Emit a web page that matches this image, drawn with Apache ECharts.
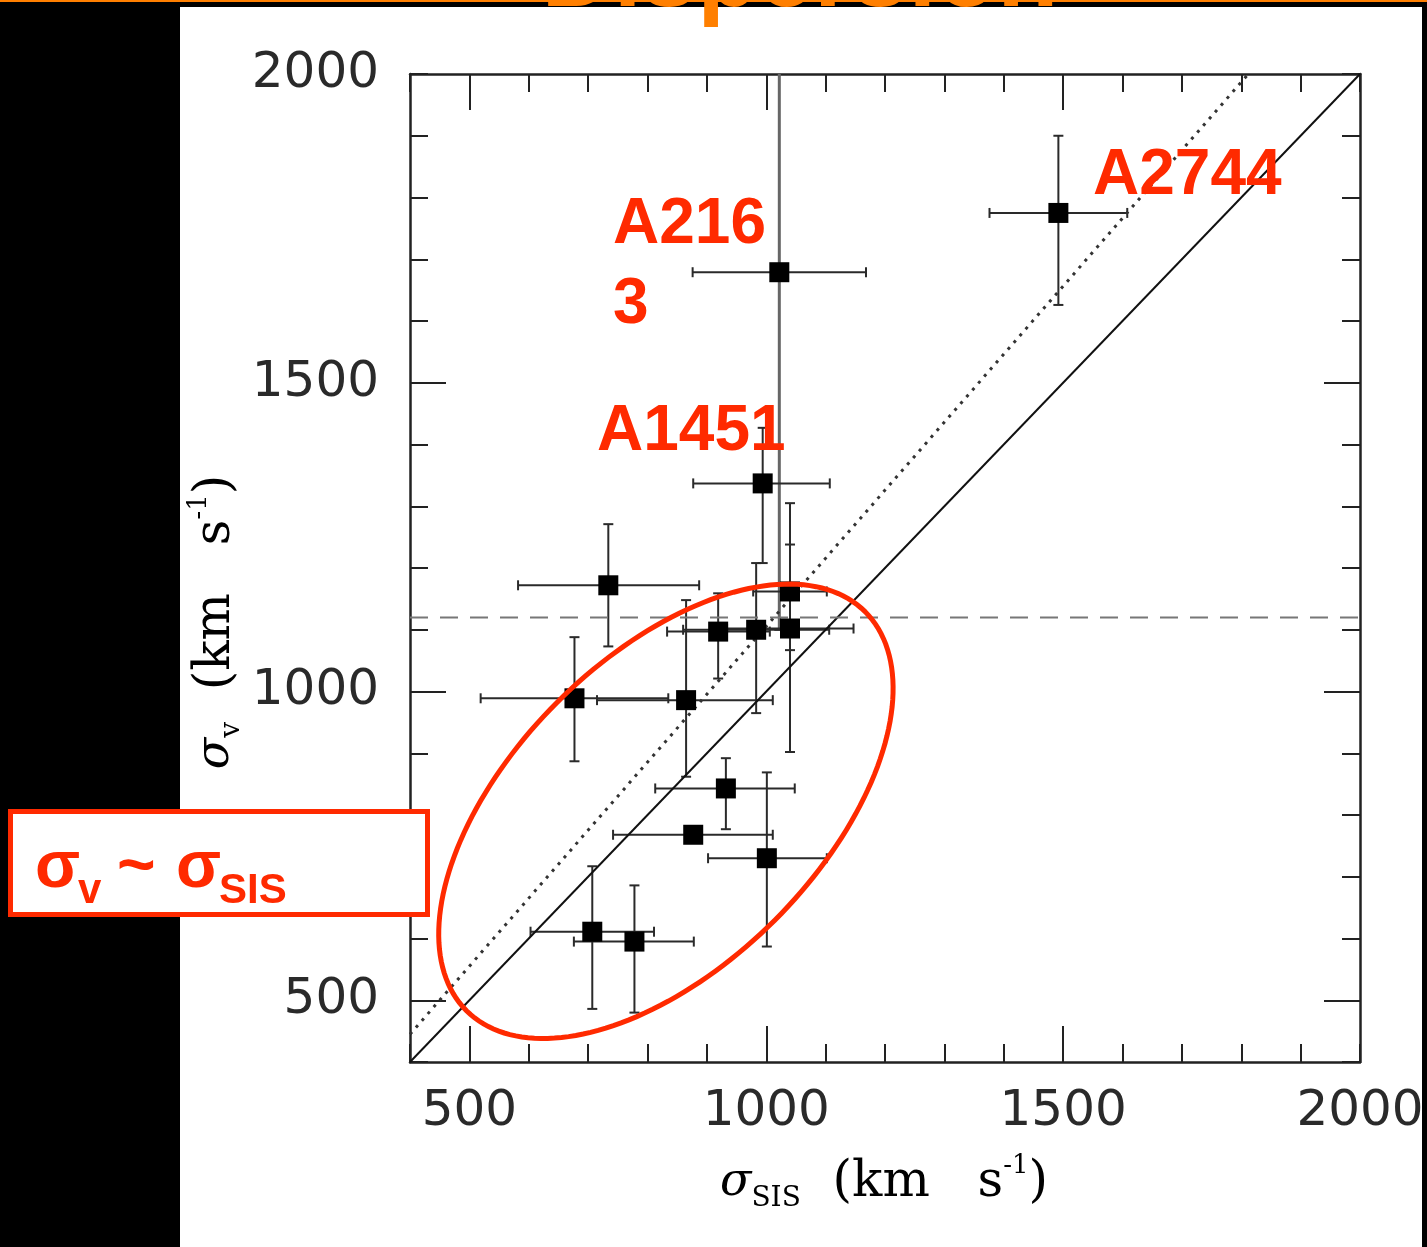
<!DOCTYPE html>
<html>
<head>
<meta charset="utf-8">
<script src="https://cdn.jsdelivr.net/npm/echarts@6/dist/echarts.min.js"></script>
<style>
  html, body { margin: 0; padding: 0; background: #000; }
  #topline { position: absolute; left: 0; top: 0; width: 1427px; height: 2px; background: #ff7f00; }
  #panel { position: absolute; left: 180px; top: 7px; width: 1242px; height: 1240px; background: #fff; }
  #chart { position: absolute; left: 0; top: 0; width: 1427px; height: 1247px; }
</style>
</head>
<body>
<div id="topline"></div>
<div id="panel"></div>
<div id="chart"></div>
<script>
// cluster velocity dispersion vs SIS lensing dispersion (km/s)
const sigmaSIS = [1022, 1492, 994, 734, 1040, 919, 983, 1040, 677, 865, 932, 877, 1001, 707, 778];
const sigmaV   = [1679, 1775, 1337, 1172, 1162, 1097, 1100, 1102, 989, 986, 843, 768, 730, 611, 595];
const sisLow   = [876, 1376, 877, 582, 978, 833, 860, 934, 519, 715, 813, 742, 902, 603, 676];
const sisHigh  = [1168, 1608, 1107, 887, 1102, 1006, 1106, 1147, 835, 1011, 1048, 1011, 1102, 811, 878];
const vLow     = [1100, 1626, 1208, 1073, 1067, 1021, 965, 902, 887, 862, 777, null, 587, 486, 480];
const vHigh    = [2250, 1900, 1427, 1271, 1238, 1159, 1208, 1305, 1088, 1148, 892, null, 869, 717, 686];

const oneToOne  = [[400, 400], [2000, 2000]];
const dottedFit = [[400, 445], [1812, 2000]];
const meanSigma = [[400, 1120], [2000, 1120]];

const axisLabels = [500, 1000, 1500, 2000];
const longTicks  = [500, 1000, 1500];

// highlighted region (data centre, pixel semi-axes, tilt)
const ellipseCenter = [831, 806];
const ellipseRadii = [282, 154];
const ellipseTilt = 45;

const red = '#ff2a00';
const frame = '#222';

const chartDiv = document.getElementById('chart');
const myChart = echarts.init(chartDiv, null, { renderer: 'canvas' });

const shortAxis = (pos, labels) => ({
  type: 'value', position: pos, min: 400, max: 2000, interval: 100,
  splitLine: { show: false },
  axisLine: { show: true, onZero: false, lineStyle: { color: frame, width: 2.5 } },
  axisTick: { show: true, inside: true, length: 18, lineStyle: { color: frame, width: 2 } },
  axisLabel: labels ? {
    show: true, customValues: axisLabels, margin: pos === 'left' ? 31 : 25,
    formatter: v => String(v),
    fontFamily: 'DejaVu Sans', fontSize: 50, color: '#2a2a2a'
  } : { show: false }
});
const longAxis = (pos) => ({
  type: 'value', position: pos, min: 400, max: 2000,
  splitLine: { show: false },
  axisLine: { show: false },
  axisTick: { show: true, inside: true, length: 36, customValues: longTicks, lineStyle: { color: frame, width: 2 } },
  axisLabel: { show: false }
});

const capW = 5;
const renderErr = (params, api) => {
  const i = params.dataIndex;
  const x = api.value(0), y = api.value(1);
  const st = { stroke: '#2a2a2a', lineWidth: 2 };
  const kids = [];
  const a = api.coord([sisLow[i], y]), b = api.coord([sisHigh[i], y]);
  kids.push({ type: 'line', shape: { x1: a[0], y1: a[1], x2: b[0], y2: b[1] }, style: st });
  kids.push({ type: 'line', shape: { x1: a[0], y1: a[1] - capW, x2: a[0], y2: a[1] + capW }, style: st });
  kids.push({ type: 'line', shape: { x1: b[0], y1: b[1] - capW, x2: b[0], y2: b[1] + capW }, style: st });
  if (vLow[i] != null) {
    const c = api.coord([x, vLow[i]]), d = api.coord([x, vHigh[i]]);
    const vst = i === 0 ? { stroke: '#666', lineWidth: 3 } : st;
    kids.push({ type: 'line', shape: { x1: c[0], y1: c[1], x2: d[0], y2: d[1] }, style: vst });
    kids.push({ type: 'line', shape: { x1: c[0] - capW, y1: c[1], x2: c[0] + capW, y2: c[1] }, style: st });
    if (vHigh[i] <= 2000) {
      kids.push({ type: 'line', shape: { x1: d[0] - capW, y1: d[1], x2: d[0] + capW, y2: d[1] }, style: st });
    }
  }
  return { type: 'group', children: kids };
};

const serif = 'DejaVu Serif';
const serifRich = {
  i: { fontFamily: serif, fontStyle: 'italic', fontSize: 46, lineHeight: 60, color: '#222' },
  sub: { fontFamily: serif, fontSize: 28, lineHeight: 12, verticalAlign: 'bottom', color: '#222' },
  n: { fontFamily: serif, fontSize: 50, lineHeight: 60, color: '#222' },
  sup: { fontFamily: serif, fontSize: 26, lineHeight: 46, verticalAlign: 'top', color: '#222' }
};
const axisName = (subText) => '{i|σ}{sub|' + subText + '}{n|  (km   s}{sup|-1}{n|)}';

const option = {
  backgroundColor: 'transparent',
  animation: false,
  grid: { left: 410, top: 74, width: 950, height: 988, outerBoundsMode: 'none', containLabel: false },
  xAxis: [shortAxis('bottom', true), longAxis('bottom'), shortAxis('top', false), longAxis('top')],
  yAxis: [shortAxis('left', true), longAxis('left'), shortAxis('right', false), longAxis('right')],
  series: [
    {
      type: 'line', data: oneToOne, showSymbol: false, silent: true,
      lineStyle: { color: '#111', width: 2 }
    },
    {
      type: 'line', data: dottedFit, showSymbol: false, silent: true,
      lineStyle: { color: '#333', width: 3, type: [3, 6] }
    },
    {
      type: 'line', data: meanSigma, showSymbol: false, silent: true,
      lineStyle: { color: '#777', width: 2, type: [18, 12] }
    },
    {
      type: 'custom', clip: true, renderItem: renderErr,
      data: sigmaSIS.map((x, i) => [x, sigmaV[i]]), z: 3
    },
    {
      type: 'scatter', symbol: 'rect', symbolSize: 20, z: 4,
      itemStyle: { color: '#000', opacity: 1 },
      data: sigmaSIS.map((x, i) => [x, sigmaV[i]])
    }
  ],
  graphic: [
    {
      type: 'text', x: 800, y: -72, z: 50,
      style: { text: 'Dispersion', fontFamily: 'Liberation Sans', fontWeight: 'bold', fontSize: 100, fill: '#ff7f00', align: 'center', verticalAlign: 'top' }
    },
    {
      type: 'text', x: 884, y: 1183, z: 50,
      style: { text: axisName('SIS'), rich: serifRich, align: 'center', verticalAlign: 'middle' }
    },
    {
      type: 'text', x: 216, y: 622, rotation: Math.PI / 2, z: 50,
      style: { text: axisName('v'), rich: serifRich, align: 'center', verticalAlign: 'middle' }
    },
    { type: 'text', x: 613, y: 265, z: 60,
      style: { text: 'A216\n3', fontFamily: 'Liberation Sans', fontWeight: 'bold', fontSize: 64, lineHeight: 80, fill: red, verticalAlign: 'middle' } },
    { type: 'text', x: 597, y: 432, z: 60,
      style: { text: 'A1451', fontFamily: 'Liberation Sans', fontWeight: 'bold', fontSize: 64, fill: red, verticalAlign: 'middle' } },
    { type: 'text', x: 1093, y: 176, z: 60,
      style: { text: 'A2744', fontFamily: 'Liberation Sans', fontWeight: 'bold', fontSize: 64, fill: red, verticalAlign: 'middle' } },
    { type: 'rect', z: 60, shape: { x: 10.5, y: 811.5, width: 417, height: 103 },
      style: { fill: '#fff', stroke: red, lineWidth: 5 } },
    { type: 'text', x: 35, y: 869, z: 61,
      style: { text: 'σ', fontFamily: 'Liberation Sans', fontWeight: 'bold', fontSize: 66, fill: red, verticalAlign: 'middle' } },
    { type: 'text', x: 78, y: 891, z: 61,
      style: { text: 'v', fontFamily: 'Liberation Sans', fontWeight: 'bold', fontSize: 42, fill: red, verticalAlign: 'middle' } },
    { type: 'text', x: 117, y: 869, z: 61,
      style: { text: '~', fontFamily: 'Liberation Sans', fontWeight: 'bold', fontSize: 66, fill: red, verticalAlign: 'middle' } },
    { type: 'text', x: 176, y: 869, z: 61,
      style: { text: 'σ', fontFamily: 'Liberation Sans', fontWeight: 'bold', fontSize: 66, fill: red, verticalAlign: 'middle' } },
    { type: 'text', x: 219, y: 891, z: 61,
      style: { text: 'SIS', fontFamily: 'Liberation Sans', fontWeight: 'bold', fontSize: 42, fill: red, verticalAlign: 'middle' } }
  ]
};

if (option && typeof option === 'object') {
  myChart.setOption(option);
}

// ellipse outline around the clusters that agree with sigma_v ~ sigma_SIS
const c = myChart.convertToPixel({ gridIndex: 0 }, ellipseCenter);
const t = ellipseTilt * Math.PI / 180;
const pts = [];
for (let k = 0; k < 180; k++) {
  const a = k / 180 * Math.PI * 2;
  const u = ellipseRadii[0] * Math.cos(a), v = ellipseRadii[1] * Math.sin(a);
  pts.push([c[0] + u * Math.cos(t) + v * Math.sin(t), c[1] - u * Math.sin(t) + v * Math.cos(t)]);
}
option.graphic.push({ type: 'polygon', z: 55, shape: { points: pts }, style: { fill: 'none', stroke: red, lineWidth: 5 } });
myChart.setOption({ graphic: option.graphic });
</script>
</body>
</html>
